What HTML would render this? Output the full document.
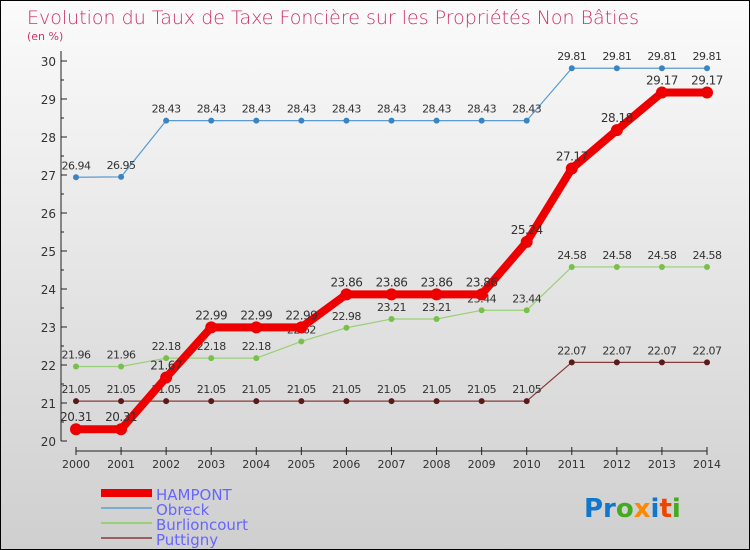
<!DOCTYPE html>
<html><head><meta charset="utf-8"><style>
body{margin:0}
#c{width:750px;height:550px;position:relative;box-sizing:border-box;border:1px solid #000;background:linear-gradient(#fbfbfb,#cfcfcf);font-family:"DejaVu Sans","Liberation Sans",sans-serif;overflow:hidden}
</style></head><body>
<div id="c">
<svg id="s" width="748" height="548" style="position:absolute;left:0;top:0">
<text x="26" y="23" font-size="19" fill="#cc3366" font-family="DejaVu Sans" font-weight="200">Evolution du Taux de Taxe Foncière sur les Propriétés Non Bâties</text>
<text x="26" y="39" font-size="11" fill="#cc3366">(en %)</text>
<g id="g"></g>
<g>
<rect x="100" y="488" width="51" height="8" fill="#ee0000"/>
<text x="155" y="499" font-size="15" fill="#6666ff">HAMPONT</text>
<line x1="100" y1="507" x2="151" y2="507" stroke="#7aabd0" stroke-width="2"/>
<text x="155" y="514" font-size="15" fill="#6666ff">Obreck</text>
<line x1="100" y1="522" x2="151" y2="522" stroke="#99d077" stroke-width="2"/>
<text x="155" y="529" font-size="15" fill="#6666ff">Burlioncourt</text>
<line x1="100" y1="537" x2="151" y2="537" stroke="#9a6060" stroke-width="2"/>
<text x="155" y="544" font-size="15" fill="#6666ff">Puttigny</text>
</g>
<text x="583" y="516" font-size="26" font-weight="bold"><tspan fill="#1177cc">Pr</tspan><tspan fill="#44aa22">o</tspan><tspan fill="#ff8800">x</tspan><tspan fill="#1177cc">i</tspan><tspan fill="#ee4400">t</tspan><tspan fill="#44aa22">i</tspan></text>
</svg>
</div>
<script>
const years=[2000,2001,2002,2003,2004,2005,2006,2007,2008,2009,2010,2011,2012,2013,2014];
const yTicks=[20,21,22,23,24,25,26,27,28,29,30];
const hampont=[20.31,20.31,21.67,22.99,22.99,22.99,23.86,23.86,23.86,23.86,25.24,27.17,28.18,29.17,29.17];
const obreck=[26.94,26.95,28.43,28.43,28.43,28.43,28.43,28.43,28.43,28.43,28.43,29.81,29.81,29.81,29.81];
const burlioncourt=[21.96,21.96,22.18,22.18,22.18,22.62,22.98,23.21,23.21,23.44,23.44,24.58,24.58,24.58,24.58];
const puttigny=[21.05,21.05,21.05,21.05,21.05,21.05,21.05,21.05,21.05,21.05,21.05,22.07,22.07,22.07,22.07];
const NS="http://www.w3.org/2000/svg";
const g=document.getElementById('g');
const X=i=>75+i*(706-75)/(years.length-1);
const Y=v=>440-(v-20)*38;
function el(t,a,p){const e=document.createElementNS(NS,t);for(const k in a)e.setAttribute(k,a[k]);(p||g).appendChild(e);return e;}
let e=el('line',{x1:60,y1:50,x2:60,y2:440,stroke:'#222'});


e=el('line',{x1:75,y1:450,x2:706,y2:450,stroke:'#222'});


yTicks.forEach(v=>{
 el('line',{x1:60,y1:Y(v),x2:66,y2:Y(v),stroke:'#222'});
 if(v<30) el('line',{x1:60,y1:Y(v+0.5),x2:63,y2:Y(v+0.5),stroke:'#222'});
 const t=el('text',{x:55,y:Y(v)+5,'font-size':12,'text-anchor':'end',fill:'#333'});t.textContent=v;
 
 
});
years.forEach((y,i)=>{
 el('line',{x1:X(i),y1:446,x2:X(i),y2:454,stroke:'#222'});
 const t=el('text',{x:X(i),y:467,'font-size':11,'text-anchor':'middle',fill:'#333'});t.textContent=y;
 
 
});
function series(d,name,col,dot,w,r,fs,lc){
 const p=el('polyline',{points:d.map((v,i)=>X(i)+','+Y(v)).join(' '),fill:'none',stroke:col,'stroke-width':w,'stroke-linejoin':'round'});
 
 
 d.forEach((v,i)=>{
  const c=el('circle',{cx:X(i),cy:Y(v),r:r,fill:dot});
  
  
  const t=el('text',{x:X(i),y:Y(v)-8,'font-size':fs,'text-anchor':'middle',fill:lc,'letter-spacing':'-0.5'});t.textContent=v;
  
  
 });
}
series(obreck,'obreck','#5b9bd0','#3a84c4',1.2,3,11,'#333');
series(puttigny,'puttigny','#8a3a3a','#5a1a1a',1.2,3,11,'#333');
series(burlioncourt,'burlioncourt','#99d077','#77c04a',1.2,3,11,'#333');
series(hampont,'hampont','#ee0000','#ee0000',8,6,12,'#333');
</script>
</body></html>
